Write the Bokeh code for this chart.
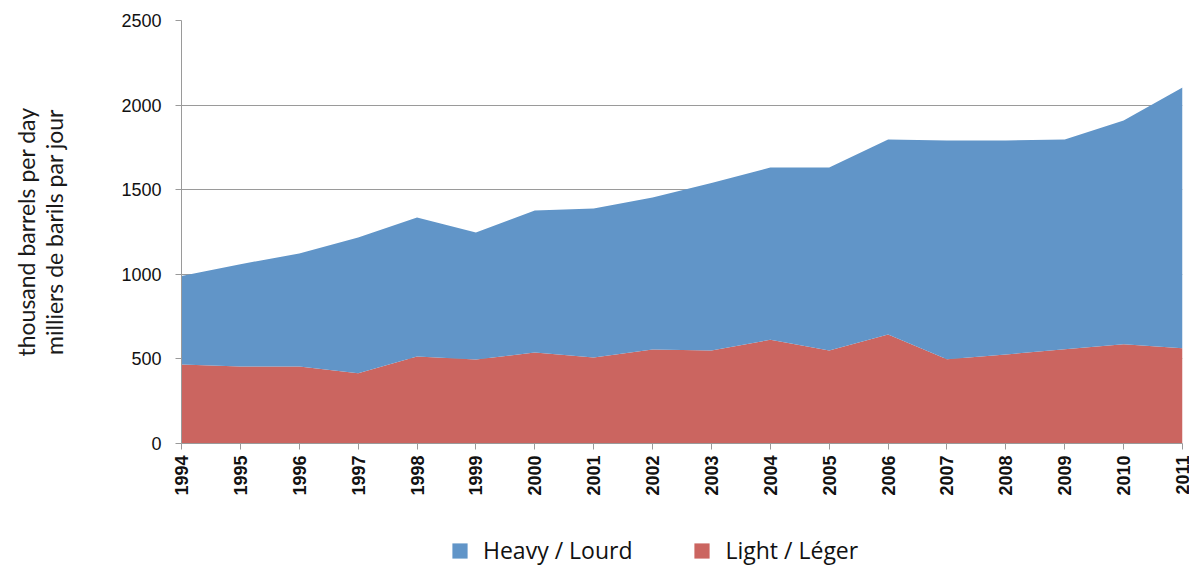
from bokeh.plotting import figure
from bokeh.layouts import column
from bokeh.models import Range1d, Legend, LegendItem, FixedTicker, ColumnDataSource
from bokeh.embed import file_html
from bokeh.resources import INLINE
import math

years = list(range(1994, 2012))
light = [467, 455, 455, 415, 514, 496, 538, 508, 556, 550, 613, 550, 644, 498, 526, 557, 587, 563]
heavy = [523, 605, 668, 803, 822, 751, 839, 881, 898, 990, 1018, 1081, 1153, 1293, 1265, 1240, 1322, 1541]
series_labels = ["Heavy / Lourd", "Light / Léger"]
y_ticks = [0, 500, 1000, 1500, 2000, 2500]
y_title = "thousand barrels per day\nmilliers de barils par jour"

BLUE = "#6195C8"
RED = "#CB6560"

src = ColumnDataSource(dict(year=years, light=light, heavy=heavy))

p = figure(width=1189, height=510, output_backend="svg", toolbar_location=None,
           x_range=Range1d(1994, 2011), y_range=Range1d(0, 2500),
           min_border_left=181, min_border_right=7, min_border_top=20, min_border_bottom=67)

rs = p.varea_stack(stackers=["light", "heavy"], x="year", color=[RED, BLUE], source=src)

p.outline_line_color = None
p.background_fill_color = "white"
p.xgrid.grid_line_color = None
p.ygrid.grid_line_color = "#9a9a9a"
p.ygrid.grid_line_width = 1.2
p.ygrid.ticker = FixedTicker(ticks=y_ticks)

ya = p.yaxis[0]
ya.ticker = FixedTicker(ticks=y_ticks)
ya.axis_line_color = "#9a9a9a"
ya.major_tick_line_color = "#9a9a9a"
ya.major_tick_out = 6
ya.major_tick_in = 0
ya.minor_tick_line_color = None
ya.major_label_text_font = "Liberation Sans"
ya.major_label_text_font_size = "18px"
ya.major_label_text_color = "#111111"
ya.major_label_standoff = 14
ya.axis_label = y_title
ya.axis_label_text_font = "Lato"
ya.axis_label_text_font_size = "23px"
ya.axis_label_text_font_style = "normal"
ya.axis_label_text_color = "#1a1a1a"
ya.axis_label_text_line_height = 1.0
ya.axis_label_standoff = 50

xa = p.xaxis[0]
xa.ticker = FixedTicker(ticks=years)
xa.axis_line_color = "#9a9a9a"
xa.major_tick_line_color = "#9a9a9a"
xa.major_tick_out = 6
xa.major_tick_in = 0
xa.minor_tick_line_color = None
xa.major_label_orientation = math.pi / 2
xa.major_label_text_font = "Liberation Sans"
xa.major_label_text_font_size = "18px"
xa.major_label_text_font_style = "bold"
xa.major_label_text_color = "#111111"
xa.major_label_standoff = 6

# legend strip below the chart (its renderers sit outside the visible range)
q = figure(width=1189, height=60, output_backend="svg", toolbar_location=None,
           x_range=Range1d(0, 1), y_range=Range1d(0, 1),
           min_border_left=0, min_border_right=0, min_border_top=0, min_border_bottom=0)
q.axis.visible = False
q.grid.visible = False
q.outline_line_color = None
h_r = q.varea(x="year", y1=0, y2="heavy", source=src, color=BLUE)
l_r = q.varea(x="year", y1=0, y2="light", source=src, color=RED)
legend = Legend(items=[LegendItem(label=series_labels[0], renderers=[h_r]),
                       LegendItem(label=series_labels[1], renderers=[l_r])],
                orientation="horizontal", location=(269, 4),
                glyph_width=19, glyph_height=19, label_standoff=14, spacing=60,
                label_text_font="Open Sans", label_text_font_size="23px",
                label_text_color="#111111", border_line_color=None,
                background_fill_alpha=0, margin=0, padding=0)
q.add_layout(legend, "center")

layout = column(p, q, spacing=0)
open("out.html", "w").write(file_html(layout, INLINE))
